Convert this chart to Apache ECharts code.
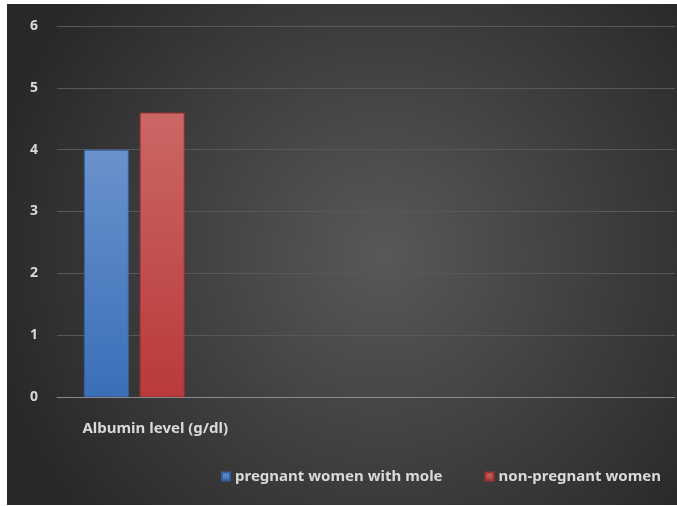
<!DOCTYPE html>
<html><head><meta charset="utf-8">
<script src="https://cdn.jsdelivr.net/npm/echarts@6/dist/echarts.min.js"></script>
<style>html,body{margin:0;padding:0;background:#fff;}#c{position:absolute;left:7px;top:4px;width:670px;height:501px;}</style>
</head><body><div id="c"></div>
<script>
var categories = ["Albumin level (g/dl)", "", "", ""];
var seriesNames = ["pregnant women with mole", "non-pregnant women"];
var moleValues = [4.0, null, null, null];
var nonPregValues = [4.6, null, null, null];
var yTicks = [0, 1, 2, 3, 4, 5, 6];

var chart = echarts.init(document.getElementById('c'));
var txt = '#d9d9d9';
var font = 'Noto Sans';
function grad(top, bottom){
  return new echarts.graphic.LinearGradient(0,0,0,1,[{offset:0,color:top},{offset:1,color:bottom}]);
}
chart.setOption({
  backgroundColor: new echarts.graphic.RadialGradient(0.56,0.5,0.8,[{offset:0,color:'#585858'},{offset:1,color:'#282828'}]),
  animation:false,
  grid:{left:50, right:2, top:22, bottom:108},
  legend:{
    bottom:16, left:209,
    itemWidth:8, itemHeight:8, itemGap:42,
    icon:'rect',
    textStyle:{color:txt, fontSize:15, fontWeight:'bold', fontFamily:font},
    data:seriesNames
  },
  xAxis:{
    type:'category', data:categories,
    axisLine:{lineStyle:{color:'#8a8a8a', width:1}},
    axisTick:{show:false},
    axisLabel:{color:txt, fontSize:15, fontWeight:'bold', fontFamily:font, margin:24, padding:[0,0,0,42], interval:0}
  },
  yAxis:{
    type:'value', min:yTicks[0], max:yTicks[yTicks.length-1], interval:1,
    axisLine:{show:false}, axisTick:{show:false},
    splitLine:{lineStyle:{color:'#585858', width:1}},
    axisLabel:{color:txt, fontSize:14, fontWeight:'bold', fontFamily:font, margin:19}
  },
  series:[
    {name:seriesNames[0], type:'bar', data:moleValues, barWidth:45, barGap:'24%',
     itemStyle:{color:grad('#6a92cd','#3a6fb8'), borderColor:'#35609e', borderWidth:1}},
    {name:seriesNames[1], type:'bar', data:nonPregValues, barWidth:45,
     itemStyle:{color:grad('#cb6765','#b93a3a'), borderColor:'#9e3333', borderWidth:1}}
  ]
});
</script></body></html>
